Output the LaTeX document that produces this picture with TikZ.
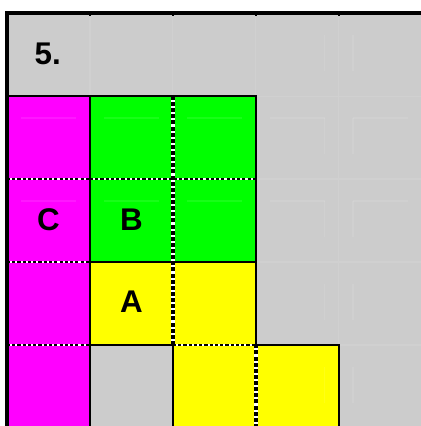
\documentclass[tikz,border=0pt]{standalone}
\usepackage{fontspec}
\setmainfont{Liberation Sans}
\definecolor{boardgray}{HTML}{CCCCCC}
\definecolor{pieceC}{HTML}{FF00FF}
\definecolor{pieceB}{HTML}{00FF00}
\definecolor{pieceA}{HTML}{FFFF00}

\tikzset{
  wall/.style={line width=1.9pt, line join=miter},
  faint/.style={white, opacity=0.09, line width=0.7pt},
  seamv/.style={line width=2.1pt, dash pattern=on 2.8pt off 1.4pt,
    preaction={draw, white, solid, line width=2.1pt}},
  seamh/.style={line width=1.1pt, dash pattern=on 2.2pt off 1.4pt,
    preaction={draw, white, solid, line width=1.1pt}},
  letter/.style={font=\fontsize{21.5}{21.5}\selectfont\bfseries, inner sep=0pt}
}

\begin{document}
\begin{tikzpicture}[scale=2]
    \useasboundingbox (-0.0843,0.024) rectangle (4.988,5.157);
    % board
    \fill[boardgray] (0,0) rectangle (5,5);
    \draw[faint] (0,0) grid (5,5);
    % pieces
    \fill[pieceC] (0,0) rectangle (1,4);
    \fill[pieceB] (1,2) rectangle (3,4);
    \fill[pieceA] (1,1) rectangle (3,2);
    \fill[pieceA] (2,0) rectangle (4,1);
    % faint marks
    \foreach \y in {3,4} {
        \foreach \x in {0,...,4}
            \draw[faint] (\x+0.169,\y-0.265) -- (\x+0.831,\y-0.265);
    }
    \foreach \y in {1,...,5} {
        \draw[faint] (3.831,\y-0.265) -- (3.831,\y-0.699);
        \draw[faint] (4.169,\y-0.265) -- (4.169,\y-0.699);
    }
    % seams inside pieces
    \foreach \y in {1,2,3}
        \draw[seamh] (0,\y) -- (1,\y);
    \draw[seamh] (1,3) -- (3,3);
    \draw[seamh] (2,1) -- (3,1);
    \draw[seamv] (2,1) -- (2,4);
    \draw[seamv] (3,0) -- (3,1);
    % walls
    \draw[wall] (1,0) -- (1,4);
    \draw[wall] (0,4) -- (3,4) -- (3,1) -- (4,1) -- (4,0);
    \draw[wall] (1,2) -- (3,2);
    \draw[wall] (1,1) -- (2,1) -- (2,0);
    \draw[line width=2.7pt, line join=miter] (0,0) -- (0,5) -- (5.1,5);
    \foreach \x in {1,...,4}
        \draw[line width=1.4pt] (\x,5) -- (\x,4.96);
    % labels
    \node[letter, anchor=west] (num) at (0.33,4.506) {5.};
    \node[letter] (c) at (0.5,2.51) {C};
    \node[letter] (b) at (1.5,2.51) {B};
    \node[letter] (a) at (1.5,1.52) {A};
\end{tikzpicture}
\end{document}
